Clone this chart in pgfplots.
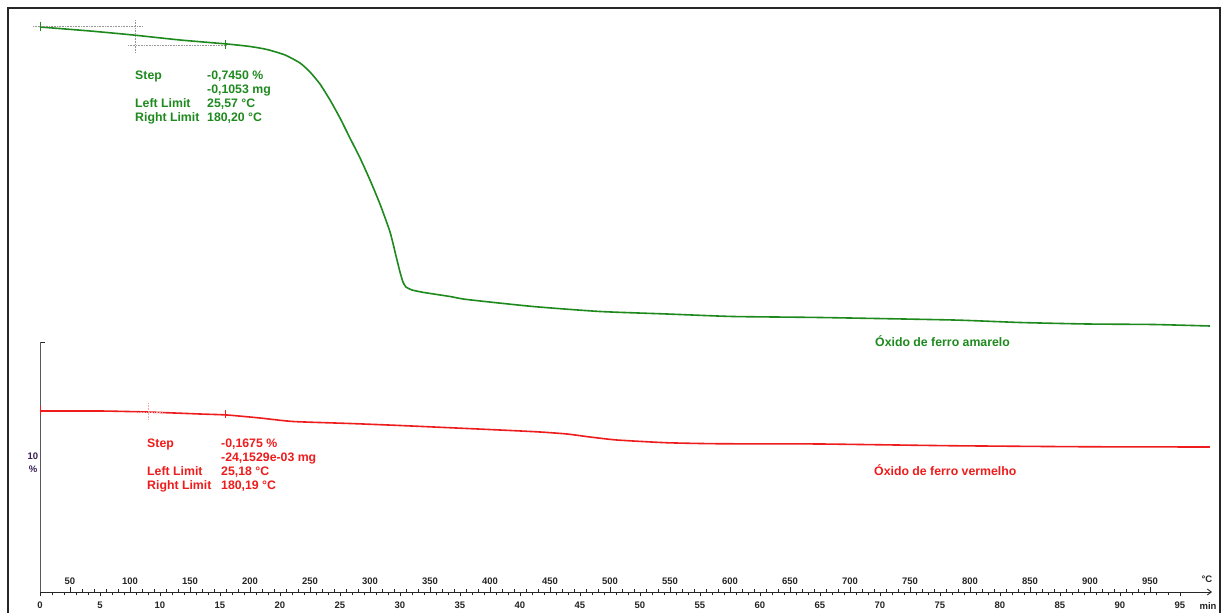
\documentclass[border=0pt]{standalone}
\usepackage{fontspec}
\setmainfont{Liberation Sans}
\usepackage{pgfplots}
\pgfplotsset{compat=1.18}
\usetikzlibrary{arrows.meta}

\definecolor{tgagreen}{RGB}{30,138,30}
\definecolor{tgared}{RGB}{238,28,28}
\definecolor{scalecol}{RGB}{55,30,85}
\definecolor{crossgray}{RGB}{150,150,150}
\definecolor{crosspink}{RGB}{245,170,170}

\newcommand{\ticksfont}{\fontsize{9.5}{11}\selectfont\bfseries}
\newcommand{\notefont}{\fontsize{12.3}{14}\selectfont\bfseries}

\begin{document}
\begin{tikzpicture}[x=1pt,y=1pt]
\useasboundingbox (0,0) rectangle (1221,613);
\fill[white] (0,0) rectangle (1221,613);
% outer frame
\draw[line width=1.8pt, black!85] (8,-5) -- (8,605) -- (1220,605) -- (1220,-5);

% temperature scale, labels above the time axis
\begin{axis}[
  at={(40pt,21pt)}, anchor=south west, scale only axis,
  width=1172pt, height=250pt,
  xmin=25, xmax=1001.7, ymin=0, ymax=10,
  axis x line=bottom, axis y line=none,
  x axis line style={draw=none},
  xtick={50,100,...,950}, minor x tick num=4,
  tick align=inside,
  major tick length=4.5pt, minor tick length=3pt,
  every tick/.style={black!85, line width=0.8pt},
  xticklabel style={anchor=south, yshift=3.5pt, font=\ticksfont, text=black!85},
  /pgf/number format/assume math mode=true,
  /pgf/number format/1000 sep={},
]
\end{axis}

% time axis, curves and 10 % scale bar
\begin{axis}[
  at={(40pt,21pt)}, anchor=south west, scale only axis,
  width=1172pt, height=250pt,
  xmin=0, xmax=97.67, ymin=0, ymax=10,
  axis x line=bottom, axis y line=left,
  x axis line style={-{Straight Barb[length=4pt,width=6pt]}, line width=0.9pt, black!85},
  y axis line style={-, line width=1pt, black!65},
  xtick={0,5,...,95}, minor x tick num=4,
  xtick align=outside, ytick align=inside,
  major tick length=4.5pt, minor tick length=3pt,
  every tick/.style={black!85, line width=0.8pt},
  ytick={10}, yticklabels={},
  xticklabel style={font=\ticksfont, text=black!85, yshift=-1.5pt},
  /pgf/number format/assume math mode=true,
  clip=false,
]
% Óxido de ferro amarelo
\addplot[tgagreen, line width=1.6pt, smooth, tension=0.35] table {
t y
0     22.60
4.17  22.44
7.75  22.28
11.67 22.08
15.58 21.92
17.50 21.82
18.92 21.70
20.42 21.48
21.67 21.16
22.50 20.80
23.33 20.32
24.17 19.68
25.00 18.96
25.83 18.16
26.67 17.36
27.50 16.48
28.33 15.52
29.17 14.40
29.67 13.44
30.00 12.80
30.25 12.40
30.50 12.20
31.00 12.08
32.00 11.98
34.17 11.82
35.58 11.70
41.08 11.42
46.67 11.22
52.25 11.12
57.75 11.02
65.00 10.98
76.08 10.88
81.67 10.78
87.25 10.72
92.75 10.70
97.50 10.64
};
% Óxido de ferro vermelho
\addplot[tgared, line width=1.6pt, smooth, tension=0.35] table {
t y
0     7.24
5.00  7.24
8.92  7.20
13.33 7.12
15.58 7.08
18.33 6.96
21.08 6.82
25.83 6.74
30.00 6.66
38.33 6.48
41.67 6.40
43.92 6.32
45.83 6.20
48.08 6.08
52.25 5.97
56.67 5.93
65.00 5.92
76.08 5.85
87.25 5.81
97.50 5.80
};
% evaluation limits and cursors
\addplot[crossgray, densely dotted, line width=0.6pt] coordinates {(-0.58,22.64) (8.58,22.64)};
\addplot[crossgray, densely dotted, line width=0.6pt] coordinates {(7.92,22.88) (7.92,21.56)};
\addplot[crossgray, densely dotted, line width=0.6pt] coordinates {(7.33,21.88) (15.58,21.88)};
\addplot[tgagreen, line width=1pt] coordinates {(0,22.80) (0,22.44)};
\addplot[tgagreen, line width=1pt] coordinates {(15.42,22.08) (15.42,21.72)};
\addplot[crosspink, densely dotted, line width=0.6pt] coordinates {(9,7.56) (9,6.88)};
\addplot[crosspink, densely dotted, line width=0.6pt] coordinates {(7.5,7.20) (10.17,7.20)};
\addplot[tgared, line width=1pt] coordinates {(0,7.44) (0,7.08)};
\addplot[tgared, line width=1pt] coordinates {(15.5,7.28) (15.5,6.96)};
\end{axis}

% axis units
\node[font=\ticksfont, text=black!85] at (1207,34) {°C};
\node[font=\ticksfont, text=black!85] at (1208,7) {min};
\node[font=\ticksfont, text=scalecol] at (33,157) {10};
\node[font=\ticksfont, text=scalecol] at (33,144) {\%};

% step evaluation, green curve
\begin{scope}[every node/.style={anchor=base west, inner sep=0pt, font=\notefont, text=tgagreen}]
\node at (135,533) {Step};        \node at (207,533) {-0,7450 \%};
                                   \node at (207,519) {-0,1053 mg};
\node at (135,505) {Left Limit};  \node at (207,505) {25,57 °C};
\node at (135,491) {Right Limit}; \node at (207,491) {180,20 °C};
\node at (875,266) {Óxido de ferro amarelo};
\end{scope}

% step evaluation, red curve
\begin{scope}[every node/.style={anchor=base west, inner sep=0pt, font=\notefont, text=tgared}]
\node at (147,165) {Step};        \node at (221,165) {-0,1675 \%};
                                   \node at (221,151) {-24,1529e-03 mg};
\node at (147,137) {Left Limit};  \node at (221,137) {25,18 °C};
\node at (147,123) {Right Limit}; \node at (221,123) {180,19 °C};
\node at (874,137) {Óxido de ferro vermelho};
\end{scope}
\end{tikzpicture}
\end{document}
